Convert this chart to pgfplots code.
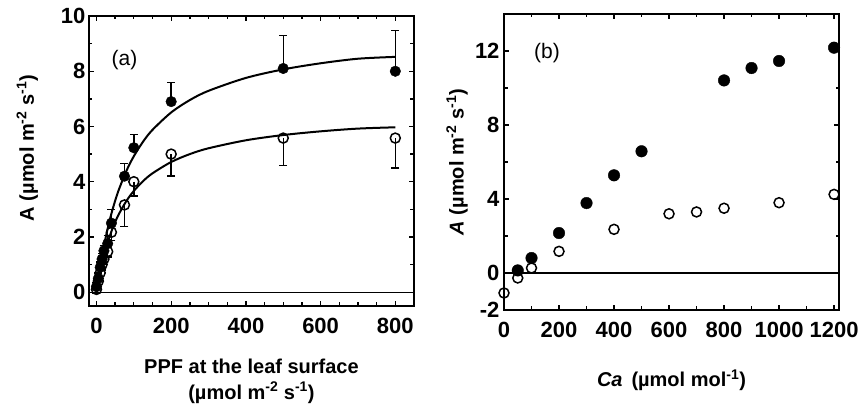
\documentclass[border=0pt]{standalone}
\usepackage{pgfplots}
\pgfplotsset{compat=1.18}
\usepackage{fontspec}
\setmainfont{Liberation Sans}

\pgfplotsset{
  panel/.style={
    scale only axis,
    axis line style={line width=1.5pt},
    tick style={line width=1.3pt, black},
    tick align=inside,
    major tick length=5pt,
    minor tick length=3.5pt,
    tick label style={font=\fontsize{22}{24}\selectfont\bfseries},
    xticklabel style={yshift=-9pt},
    /pgf/number format/assume math mode=true,
    /pgf/number format/set thousands separator={},
    label style={font=\fontsize{20}{26}\selectfont\bfseries},
  },
  filled/.style={only marks, mark=*, mark size=5.3pt, mark options={fill=black, draw=black}},
  open/.style={only marks, mark=o, mark size=5pt, mark options={line width=1.5pt, fill=white, draw=black}},
}

\begin{document}
\begin{tikzpicture}
\useasboundingbox (0pt,0pt) rectangle (864pt,409pt);

% panel (a): light response
\begin{axis}[panel,
  at={(89pt,103pt)}, anchor=south west,
  width=325pt, height=290pt,
  xmin=-20, xmax=850, ymin=-0.5, ymax=10,
  xtick={0,200,...,800}, minor x tick num=3,
  ytick={0,2,...,10}, minor y tick num=1,
  xlabel={PPF at the leaf surface\\(µmol m\textsuperscript{-2} s\textsuperscript{-1})},
  xlabel style={align=center, at={(axis description cs:0.5,-0.17)}, anchor=north},
  ylabel={A (µmol m\textsuperscript{-2} s\textsuperscript{-1})},
  ylabel style={at={(axis description cs:-0.19,0.545)}, anchor=center},
]
\addplot[black, line width=1.2pt] coordinates {(-20,0) (850,0)};
% fitted curves
\addplot[black, line width=2pt, smooth] coordinates {
(0,0) (5,0.48) (10,0.914) (20,1.670) (30,2.304) (40,2.844) (50,3.310) (60,3.716)
(80,4.389) (100,4.923) (125,5.455) (150,5.878) (200,6.508) (250,6.957) (300,7.291)
(400,7.758) (500,8.067) (600,8.288) (700,8.453) (800,8.52)};
\addplot[black, line width=2pt, smooth] coordinates {
(0,0) (5,0.388) (10,0.733) (20,1.32) (30,1.8) (40,2.2) (50,2.538) (60,2.829)
(80,3.3) (100,3.667) (125,4.024) (150,4.304) (200,4.714) (250,5.0) (300,5.211)
(400,5.5) (500,5.690) (600,5.824) (700,5.923) (800,5.97)};
% open symbols, error downwards
\addplot[open, error bars/.cd, y dir=minus, y explicit,
  error bar style={line width=1.4pt}, error mark options={rotate=90, mark size=4pt, line width=1.4pt}]
  table[x=x, y=y, y error=e] {
x y e
0 0.1 0.15
5 0.4 0.2
10 0.7 0.2
15 1.0 0.2
20 1.2 0.2
30 1.47 0.2
40 2.17 0.3
75 3.16 0.78
100 4.0 0.52
200 5.0 0.8
500 5.58 1.0
800 5.58 1.09
};
% filled symbols, error upwards
\addplot[filled, error bars/.cd, y dir=plus, y explicit,
  error bar style={line width=1.4pt}, error mark options={rotate=90, mark size=4pt, line width=1.4pt}]
  table[x=x, y=y, y error=e] {
x y e
0 0.2 0.15
5 0.5 0.2
10 0.9 0.2
15 1.2 0.2
20 1.5 0.2
30 1.76 0.3
40 2.5 0.5
75 4.2 0.47
100 5.23 0.47
200 6.9 0.7
500 8.1 1.2
800 8.0 1.47
};
\node[font=\fontsize{21}{23}\selectfont, anchor=center] at (axis cs:75,8.4) {(a)};
\end{axis}

% panel (b): CO2 response
\begin{axis}[panel,
  at={(504pt,99pt)}, anchor=south west,
  width=335pt, height=296pt,
  xmin=0, xmax=1218, ymin=-2, ymax=14,
  xtick={0,200,...,1200}, minor x tick num=1,
  ytick={-2,0,4,8,12}, minor ytick={2,6,10},
  yticklabel style={xshift=-1pt},
  xlabel={\textit{Ca}\, (µmol mol\textsuperscript{-1})},
  xlabel style={at={(axis description cs:0.5,-0.19)}, anchor=north},
  ylabel={\textit{A} (µmol m\textsuperscript{-2} s\textsuperscript{-1})},
  ylabel style={at={(axis description cs:-0.14,0.5)}, anchor=center},
]
\addplot[black, line width=1.2pt] coordinates {(0,0) (1218,0)};
\addplot[filled, mark size=5.8pt] coordinates {
(50,0.14) (100,0.81) (200,2.16) (300,3.78) (400,5.28) (500,6.58)
(800,10.41) (900,11.08) (1000,11.46) (1200,12.18)};
\addplot[open] coordinates {
(0,-1.08) (50,-0.27) (100,0.27) (200,1.17) (400,2.36) (600,3.2)
(700,3.3) (800,3.5) (1000,3.8) (1200,4.25)};
\node[font=\fontsize{21}{23}\selectfont, anchor=center] at (axis cs:156,11.9) {(b)};
\end{axis}
\end{tikzpicture}
\end{document}
